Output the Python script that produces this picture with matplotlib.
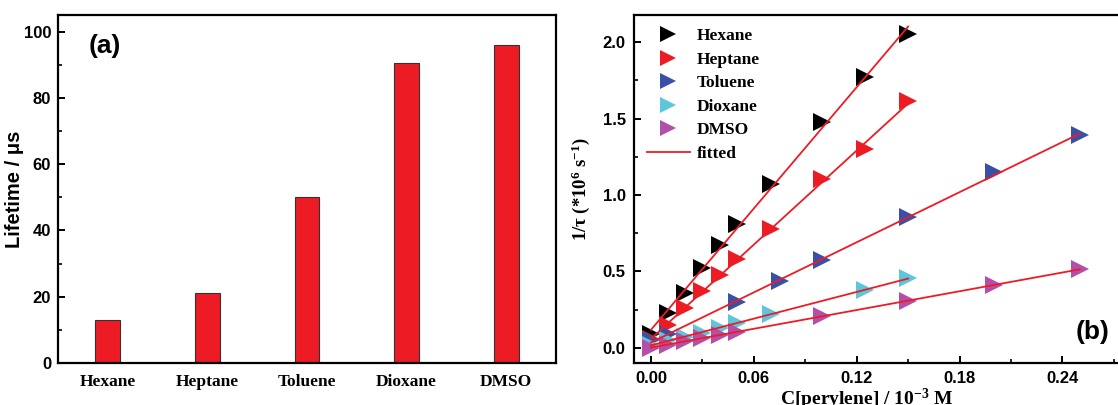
import numpy as np
import matplotlib
matplotlib.use('Agg')
import matplotlib.pyplot as plt
from matplotlib.ticker import MultipleLocator, FormatStrFormatter

# panel (a): lifetimes
solvents = ['Hexane', 'Heptane', 'Toluene', 'Dioxane', 'DMSO']
lifetime = [13, 21, 50, 90.5, 96]

# panel (b): 1/tau vs C[perylene]
hex_x = [0.0, 0.01, 0.02, 0.03, 0.04, 0.05, 0.07, 0.10, 0.125, 0.15]
hex_y = [0.09, 0.23, 0.36, 0.52, 0.67, 0.81, 1.075, 1.475, 1.77, 2.055]
hep_x = [0.0, 0.01, 0.02, 0.03, 0.04, 0.05, 0.07, 0.10, 0.125, 0.15]
hep_y = [0.06, 0.15, 0.26, 0.37, 0.48, 0.584, 0.777, 1.108, 1.302, 1.614]
tol_x = [0.0, 0.01, 0.05, 0.075, 0.10, 0.15, 0.20, 0.25]
tol_y = [0.05, 0.09, 0.297, 0.436, 0.575, 0.855, 1.152, 1.39]
dio_x = [0.0, 0.01, 0.02, 0.03, 0.04, 0.05, 0.07, 0.125, 0.15]
dio_y = [0.02, 0.05, 0.07, 0.10, 0.13, 0.165, 0.22, 0.38, 0.455]
dmso_x = [0.0, 0.01, 0.02, 0.03, 0.04, 0.05, 0.10, 0.15, 0.20, 0.25]
dmso_y = [0.0, 0.02, 0.045, 0.065, 0.085, 0.106, 0.209, 0.304, 0.414, 0.513]

series = [('Hexane', hex_x, hex_y, '#000000'),
          ('Heptane', hep_x, hep_y, '#ED1C24'),
          ('Toluene', tol_x, tol_y, '#3A50A6'),
          ('Dioxane', dio_x, dio_y, '#5EC6DA'),
          ('DMSO', dmso_x, dmso_y, '#B24FA8')]

plt.rcParams['mathtext.fontset'] = 'custom'
plt.rcParams['mathtext.rm'] = 'Liberation Serif:bold'
plt.rcParams['mathtext.it'] = 'Liberation Serif:italic:bold'
plt.rcParams['mathtext.bf'] = 'Liberation Serif:bold'

sans = {'family': 'Liberation Sans', 'weight': 'bold'}
serif = {'family': 'Liberation Serif', 'weight': 'bold'}

fig = plt.figure(figsize=(11.18, 4.05), dpi=100)
ax1 = fig.add_axes([0.0519, 0.1037, 0.4454, 0.8593])
ax2 = fig.add_axes([0.5671, 0.1037, 0.4392, 0.8593])

for ax in (ax1, ax2):
    for s in ax.spines.values():
        s.set_linewidth(1.6)

# ---- (a) bars
pos = np.arange(1, len(solvents) + 1)
ax1.bar(pos, lifetime, width=0.25, color='#ED1C24', edgecolor='#333333', linewidth=0.8)
ax1.set_xlim(0.5, 5.5)
ax1.set_ylim(0, 105)
ax1.set_xticks(pos)
ax1.set_xticklabels(solvents, fontdict=dict(serif, size=12.5))
ax1.yaxis.set_major_locator(MultipleLocator(20))
ax1.yaxis.set_minor_locator(MultipleLocator(10))
ax1.tick_params(axis='x', length=0, pad=8)
ax1.tick_params(axis='y', which='major', direction='in', length=5, width=1.4, pad=5)
ax1.tick_params(axis='y', which='minor', direction='in', length=3, width=1.2)
for t in ax1.get_yticklabels():
    t.set_fontproperties(dict(sans, size=12))
ax1.set_ylabel('Lifetime / \u03bcs', fontdict=dict(sans, size=14.5))
ax1.yaxis.set_label_coords(-0.068, 0.5)
ax1.text(0.094, 0.911, '(a)', transform=ax1.transAxes, ha='center', va='center',
         fontdict=dict(sans, size=19))

# ---- (b) scatter + linear fits
for name, x, y, c in series:
    ax2.plot(x, y, linestyle='none', marker='>', markersize=13, color=c,
             markeredgewidth=0, label=name, zorder=3)
for name, x, y, c in series:
    k, b = np.polyfit(x, y, 1)
    xs = np.array([min(x), max(x)])
    ax2.plot(xs, k * xs + b, color='#ED1C24', linewidth=1.3, zorder=4,
             label='fitted' if name == 'DMSO' else None)

ax2.set_xlim(-0.0099, 0.2765)
ax2.set_ylim(-0.099, 2.178)
ax2.xaxis.set_major_locator(MultipleLocator(0.06))
ax2.xaxis.set_minor_locator(MultipleLocator(0.03))
ax2.yaxis.set_major_locator(MultipleLocator(0.5))
ax2.yaxis.set_minor_locator(MultipleLocator(0.25))
ax2.xaxis.set_major_formatter(FormatStrFormatter('%.2f'))
ax2.yaxis.set_major_formatter(FormatStrFormatter('%.1f'))
ax2.tick_params(which='major', direction='in', length=5, width=1.4, pad=6)
ax2.tick_params(which='minor', direction='in', length=3, width=1.2)
for t in ax2.get_xticklabels() + ax2.get_yticklabels():
    t.set_fontproperties(dict(sans, size=12))
ax2.set_ylabel('1/\u03c4 (*10$^{6}$ s$^{-1}$)', fontdict=dict(serif, size=13.5))
ax2.yaxis.set_label_coords(-0.085, 0.5)
ax2.set_xlabel('C[perylene] / 10$^{-3}$ M', fontdict=dict(serif, size=14))
ax2.xaxis.set_label_coords(0.4745, -0.068)
ax2.text(0.933, 0.089, '(b)', transform=ax2.transAxes, ha='center', va='center',
         fontdict=dict(sans, size=19))

ax2.legend(loc='upper left', bbox_to_anchor=(0.026, 0.962), frameon=False,
           prop=dict(serif, size=12.5), borderaxespad=0, borderpad=0,
           handlelength=2.5, handletextpad=0.4, labelspacing=0.42, markerscale=0.85)

fig.savefig('out.png', dpi=100)
